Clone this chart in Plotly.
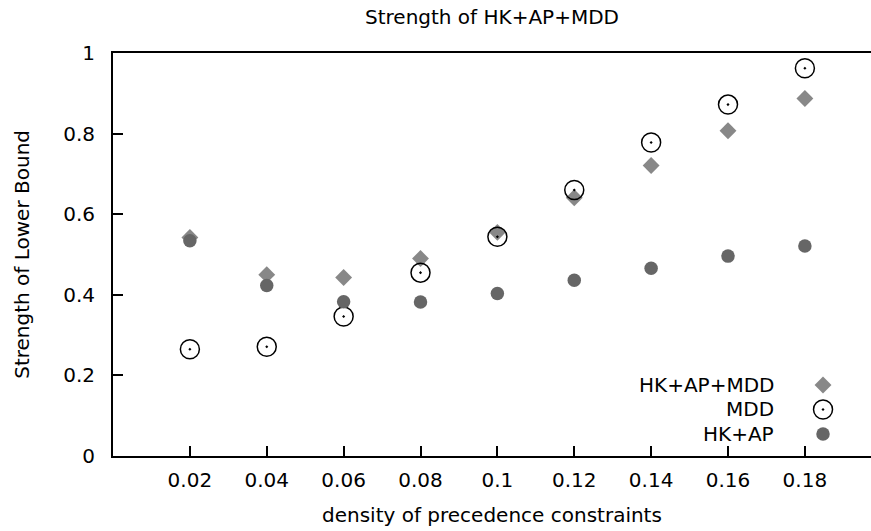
import plotly.graph_objects as go

density = [0.02, 0.04, 0.06, 0.08, 0.10, 0.12, 0.14, 0.16, 0.18]
hk_ap_mdd = [0.542, 0.450, 0.443, 0.490, 0.555, 0.641, 0.721, 0.807, 0.887]
mdd = [0.265, 0.271, 0.346, 0.455, 0.544, 0.660, 0.778, 0.872, 0.962]
hk_ap = [0.534, 0.423, 0.383, 0.382, 0.403, 0.436, 0.466, 0.496, 0.521]

x_ticks = [0.02, 0.04, 0.06, 0.08, 0.10, 0.12, 0.14, 0.16, 0.18]
x_tick_labels = ["0.02", "0.04", "0.06", "0.08", "0.1", "0.12", "0.14", "0.16", "0.18"]
y_ticks = [0, 0.2, 0.4, 0.6, 0.8, 1]
y_tick_labels = ["0", "0.2", "0.4", "0.6", "0.8", "1"]

series_names = ["HK+AP+MDD", "MDD", "HK+AP"]

FONT = "DejaVu Sans"
FS = 20
DIAMOND = dict(symbol="diamond", size=13, color="#888888", line=dict(width=0))
RING = dict(symbol="circle-open-dot", size=19, color="black", line=dict(width=1.5, color="black"))
DOT = dict(symbol="circle", size=13.5, color="#666666", line=dict(width=0))

fig = go.Figure()
fig.add_trace(go.Scatter(x=density, y=hk_ap_mdd, mode="markers", marker=DIAMOND,
                         name=series_names[0], showlegend=False))
fig.add_trace(go.Scatter(x=density, y=mdd, mode="markers", marker=RING,
                         name=series_names[1], showlegend=False))
fig.add_trace(go.Scatter(x=density, y=hk_ap, mode="markers", marker=DOT,
                         name=series_names[2], showlegend=False))

# manual legend (text left of symbol, right-aligned)
leg_x = 0.9367
leg_text_x = 0.8747
leg_rows = [0.1762, 0.1154, 0.0546]
for name, mk, yy in zip(series_names, [DIAMOND, RING, DOT], leg_rows):
    fig.add_trace(go.Scatter(x=[leg_x], y=[yy], mode="markers", marker=mk,
                             xaxis="x2", yaxis="y2", showlegend=False, hoverinfo="skip"))

annotations = []
for name, yy in zip(series_names, leg_rows):
    annotations.append(dict(text=name, x=leg_text_x, y=yy, xref="paper", yref="paper",
                            xanchor="right", yanchor="middle", showarrow=False,
                            font=dict(family=FONT, size=FS, color="black")))
annotations.append(dict(text="Strength of HK+AP+MDD", x=0.5, y=1.0893, xref="paper", yref="paper",
                        xanchor="center", yanchor="middle", showarrow=False,
                        font=dict(family=FONT, size=FS, color="black")))
annotations.append(dict(text="density of precedence constraints", x=0.5, y=-0.1464,
                        xref="paper", yref="paper", xanchor="center", yanchor="middle",
                        showarrow=False, font=dict(family=FONT, size=FS, color="black")))
annotations.append(dict(text="Strength of Lower Bound", x=-0.1210, y=0.5, textangle=-90,
                        xref="paper", yref="paper", xanchor="center", yanchor="middle",
                        showarrow=False, font=dict(family=FONT, size=FS, color="black")))

fig.update_layout(
    width=871, height=531,
    margin=dict(l=113, r=0, t=53, b=75, pad=0),
    plot_bgcolor="white", paper_bgcolor="white",
    font=dict(family=FONT, size=FS, color="black"),
    xaxis=dict(range=[0, 0.1972], tickvals=x_ticks, ticktext=x_tick_labels,
               ticks="inside", ticklen=10, tickwidth=1.5, tickcolor="black",
               showline=True, linecolor="black", linewidth=2, mirror=True,
               showgrid=False, zeroline=False, ticklabelstandoff=5,
               tickfont=dict(family=FONT, size=FS, color="black")),
    yaxis=dict(range=[0, 1], tickvals=y_ticks, ticktext=y_tick_labels,
               ticks="inside", ticklen=10, tickwidth=1.5, tickcolor="black",
               showline=True, linecolor="black", linewidth=2, mirror=False,
               showgrid=False, zeroline=False, ticklabelstandoff=12,
               tickfont=dict(family=FONT, size=FS, color="black")),
    xaxis2=dict(range=[0, 1], overlaying="x", visible=False, fixedrange=True),
    yaxis2=dict(range=[0, 1], overlaying="y", visible=False, fixedrange=True),
    annotations=annotations,
    showlegend=False,
)

fig.write_html("out.html")
